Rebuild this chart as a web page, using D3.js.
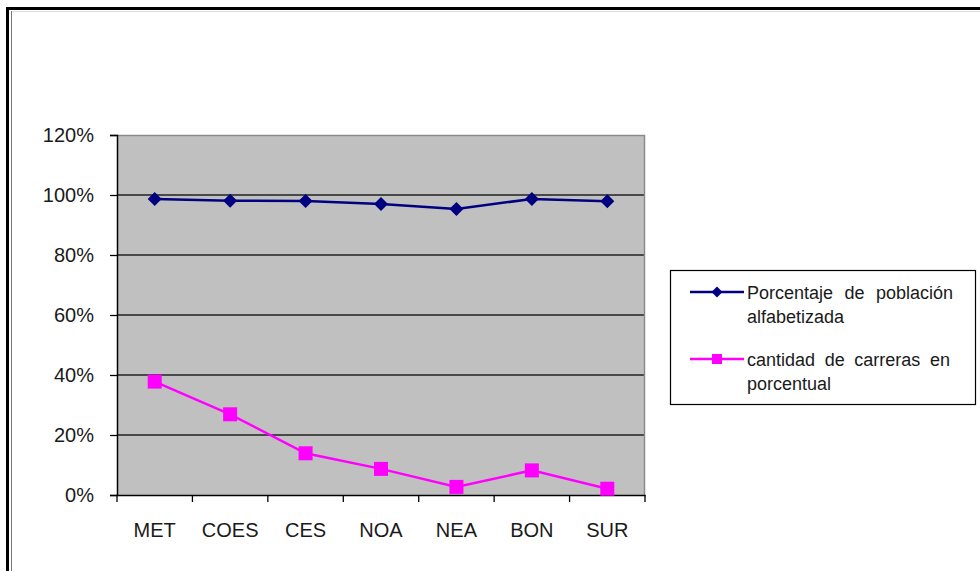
<!DOCTYPE html>
<html><head><meta charset="utf-8">
<script src="https://cdn.jsdelivr.net/npm/d3@7"></script>
<style>body{margin:0;background:#fff}svg{display:block}text{font-family:"Liberation Sans",Arial,sans-serif;fill:#1a1a1a}</style>
</head><body>
<svg id="c" width="980" height="571"></svg>
<script>
const categories = ["MET","COES","CES","NOA","NEA","BON","SUR"];
const alfabetizada = [98.7, 98.1, 98.0, 97.0, 95.3, 98.7, 97.9];
const carreras = [37.8, 26.9, 13.9, 8.7, 2.7, 8.2, 2.1];
const yTicks = [0, 20, 40, 60, 80, 100, 120];
const seriesNames = [["Porcentaje de población","alfabetizada"],["cantidad de carreras en","porcentual"]];

const svg = d3.select("#c");
// frame
svg.append("rect").attr("x",0).attr("y",0).attr("width",980).attr("height",571).attr("fill","#fff");
svg.append("rect").attr("x",6).attr("y",7).attr("width",974).attr("height",3).attr("fill","#000");
svg.append("rect").attr("x",6).attr("y",7).attr("width",3).attr("height",564).attr("fill","#000");
svg.append("line").attr("x1",11.5).attr("x2",11.5).attr("y1",11).attr("y2",571).attr("stroke","#777").attr("stroke-width",1);
svg.append("line").attr("x1",12).attr("x2",980).attr("y1",11.5).attr("y2",11.5).attr("stroke","#ddd").attr("stroke-width",1);

const L=117, R=645, T=135, B=495;
const x = d3.scaleBand().domain(categories).range([L,R]);
const y = d3.scaleLinear().domain([0,120]).range([B,T]);

svg.append("rect").attr("x",L).attr("y",T).attr("width",R-L).attr("height",B-T).attr("fill","#c0c0c0");
// gridlines
svg.append("g").selectAll("line").data(yTicks.filter(d=>d>0&&d<120)).join("line")
  .attr("x1",L).attr("x2",R).attr("y1",d=>y(d)).attr("y2",d=>y(d)).attr("stroke","#222").attr("stroke-width",1.3);
// top/right border
svg.append("path").attr("d",`M${L},${T+0.5}H${R-0.5}V${B}`).attr("fill","none").attr("stroke","#8a8a8a").attr("stroke-width",1.5);

// y axis
const yAxis = d3.axisLeft(y).tickValues(yTicks).tickFormat(d=>d+"%").tickSize(7).tickPadding(16);
const gy = svg.append("g").attr("transform",`translate(${L},0)`).call(yAxis);
gy.select(".domain").attr("stroke","#000").attr("stroke-width",1.5);
gy.selectAll(".tick line").attr("stroke","#000").attr("stroke-width",1.3);
gy.selectAll(".tick text").attr("font-size",20).attr("fill","#1a1a1a").attr("font-family","Liberation Sans, Arial, sans-serif");

// x axis
const xAxis = d3.axisBottom(x).tickSize(0).tickPadding(28);
const gx = svg.append("g").attr("transform",`translate(0,${B})`).call(xAxis);
gx.select(".domain").attr("stroke","#000").attr("stroke-width",1.5);
gx.selectAll(".tick text").attr("font-size",20).attr("fill","#1a1a1a").attr("font-family","Liberation Sans, Arial, sans-serif");
// boundary ticks
const bounds = categories.map(c=>x(c)).concat([R]);
svg.append("g").selectAll("line").data(bounds).join("line")
  .attr("x1",d=>d).attr("x2",d=>d).attr("y1",B).attr("y2",B+7).attr("stroke","#000").attr("stroke-width",1.3);

const cx = c=>x(c)+x.bandwidth()/2;
const line = d3.line().x((d,i)=>cx(categories[i])).y(d=>y(d));

// pink series
svg.append("path").datum(carreras).attr("d",line).attr("fill","none").attr("stroke","#ff00ff").attr("stroke-width",2.5);
svg.append("g").selectAll("rect").data(carreras).join("rect")
  .attr("x",(d,i)=>cx(categories[i])-7).attr("y",d=>y(d)-7).attr("width",14).attr("height",14).attr("fill","#ff00ff");
// blue series
svg.append("path").datum(alfabetizada).attr("d",line).attr("fill","none").attr("stroke","#000080").attr("stroke-width",2.5);
const diamond = s=>`M0,${-s}L${s},0L0,${s}L${-s},0Z`;
svg.append("g").selectAll("path").data(alfabetizada).join("path")
  .attr("transform",(d,i)=>`translate(${cx(categories[i])},${y(d)})`).attr("d",diamond(7)).attr("fill","#000080");

// legend
svg.append("rect").attr("x",670.5).attr("y",270.5).attr("width",305).attr("height",134).attr("fill","#fff").attr("stroke","#000").attr("stroke-width",1.2);
const leg = [{c:"#000080",y:292,m:"d"},{c:"#ff00ff",y:359,m:"s"}];
leg.forEach((e,i)=>{
  svg.append("line").attr("x1",690).attr("x2",744).attr("y1",e.y).attr("y2",e.y).attr("stroke",e.c).attr("stroke-width",2.5);
  if(e.m==="d") svg.append("path").attr("transform",`translate(717,${e.y})`).attr("d",diamond(5.5)).attr("fill",e.c);
  else svg.append("rect").attr("x",712).attr("y",e.y-5).attr("width",10).attr("height",10).attr("fill",e.c);
  const lines = seriesNames[i];
  lines.forEach((t,j)=>{
    const tx = svg.append("text").attr("x",747).attr("y",e.y+7+j*24).attr("font-size",18).text(t);
    if(j===0){
      const w = tx.node().getComputedTextLength();
      const n = t.split(" ").length-1;
      const target = i===0?206:203;
      if(n>0 && w<target) tx.attr("word-spacing",(target-w)/n);
    }
  });
});
</script>
</body></html>
